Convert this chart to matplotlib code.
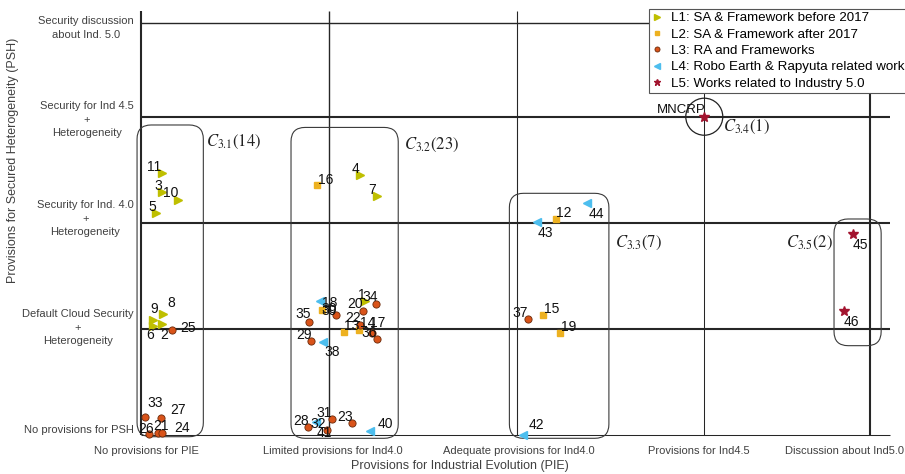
import matplotlib
matplotlib.use('Agg')
import matplotlib.pyplot as plt
from matplotlib.patches import FancyBboxPatch, Ellipse
from matplotlib.lines import Line2D

plt.rcParams['font.family'] = ['Liberation Sans', 'DejaVu Sans']
plt.rcParams['mathtext.fontset'] = 'stix'

# ---------------- categories / ticks ----------------
PIE_LABELS = ['No provisions for PIE', 'Limited provisions for Ind4.0',
              'Adequate provisions for Ind4.0', 'Provisions for Ind4.5',
              'Discussion about Ind5.0']
PSH_LABELS = ['No provisions for PSH', 'Default Cloud Security\n+\nHeterogeneity',
              'Security for Ind. 4.0\n+\nHeterogeneity',
              'Security for Ind 4.5\n+\nHeterogeneity',
              'Security discussion\nabout Ind. 5.0']
PIE_LEVELS = [0, 1, 2, 3, 3.88]
PSH_LEVELS = [0, 1, 2, 3, 3.88]

# ---------------- series ----------------
L1_ID = ['11', '3', '10', '5', '8', '9', '6', '2', '4', '7', '1']
L1_X = [0.110, 0.113, 0.199, 0.080, 0.119, 0.062, 0.062, 0.110, 1.167, 1.256, 1.193]
L1_Y = [2.468, 2.295, 2.211, 2.091, 1.145, 1.082, 1.025, 1.044, 2.446, 2.248, 1.263]

L2_ID = ['16', '30', '13', '14', '12', '15', '19']
L2_X = [0.936, 0.963, 1.082, 1.161, 2.209, 2.140, 2.232]
L2_Y = [2.358, 1.176, 0.972, 0.988, 2.032, 1.129, 0.962]

L3_ID = ['25', '33', '27', '26', '21', '24', '34', '20', '35', '22', '39', '36',
         '17', '29', '28', '31', '23', '41', '37']
L3_X = [0.167, 0.021, 0.107, 0.044, 0.092, 0.110, 1.250, 1.181, 0.895, 1.167, 1.039,
        1.259, 1.231, 0.904, 0.891, 1.016, 1.123, 0.989, 2.063]
L3_Y = [0.988, 0.172, 0.157, 0.007, 0.016, 0.016, 1.232, 1.167, 1.066, 1.041, 1.135,
        0.903, 0.960, 0.887, 0.078, 0.148, 0.110, 0.047, 1.091]

L4_ID = ['18', '38', '32', '40', '44', '43', '42']
L4_X = [0.954, 0.971, 0.932, 1.220, 2.378, 2.111, 2.037]
L4_Y = [1.263, 0.878, 0.125, 0.038, 2.185, 2.007, 0.000]

L5_ID = ['MNCRP', '45', '46']
L5_X = [3.000, 3.790, 3.742]
L5_Y = [3.000, 1.891, 1.167]

LEGEND = ['L1: SA & Framework before 2017', 'L2: SA & Framework after 2017',
          'L3: RA and Frameworks', 'L4: Robo Earth & Rapyuta related work',
          'L5: Works related to Industry 5.0']

# cluster groups: name, count
CLUSTERS = [('3.1', 14), ('3.2', 23), ('3.3', 7), ('3.4', 1), ('3.5', 2)]

# ---------------- layout (label offsets in pixels) ----------------
LABEL_OFF = {
    '11': (-8, 6), '3': (-4, 6), '10': (-8, 7), '5': (-4, 6), '8': (8, 11),
    '9': (2, 11), '6': (-3, -9), '2': (3, -11), '25': (16, 2), '33': (10, 14),
    '27': (17, 8), '26': (-3, 5), '21': (3, 7), '24': (20, 5), '16': (9, 5),
    '4': (-5, 6), '7': (-5, 6), '18': (10, -2), '30': (7, 1), '39': (-7, 4),
    '1': (-3, 6), '34': (-6, 7), '20': (-8, 7), '35': (-6, 8), '22': (-7, 7),
    '13': (8, 6), '14': (9, 7), '17': (6, 10), '36': (-8, 6), '29': (-7, 6),
    '38': (9, -10), '28': (-7, 6), '32': (2, -2), '31': (-8, 6), '23': (-7, 6),
    '41': (-2, -3), '40': (15, 7), '44': (9, -11), '12': (8, 6), '43': (8, -11),
    '37': (-8, 6), '15': (9, 6), '19': (9, 6), '42': (13, 10), 'MNCRP': (-23, 7),
    '45': (8, -11), '46': (8, -11),
}
CLUSTER_BOX = {'3.1': (-0.021, -0.016, 0.332, 2.922), '3.2': (0.799, -0.031, 1.370, 2.899),
               '3.3': (1.962, -0.031, 2.492, 2.278), '3.5': (3.691, 0.842, 3.942, 2.036)}
CLUSTER_TXT = {'3.1': (0.346, 2.762), '3.2': (1.401, 2.733), '3.3': (2.524, 1.812),
               '3.4': (3.098, 2.906), '3.5': (3.435, 1.812)}
XTICK_POS = [0.03, 1.02, 2.01, 2.97, 3.745]
YTICK_POS = [0.057, 1.037, 2.064, 3.0, 3.86]

LINE_C = '#262626'
fig = plt.figure(figsize=(9.05, 4.74), dpi=100)
ax = fig.add_axes([136 / 905, 34 / 474, 769 / 905, 440 / 474])
ax.set_xlim(-0.0266, 4.069)
ax.set_ylim(-0.047, 4.1)
for s in ax.spines.values():
    s.set_visible(False)

# grid lines
h_lw = [0.75, 1.5, 1.5, 1.5, 1.0]
v_lw = [1.5, 1.0, 0.8, 0.75, 1.5]
for y, lw in zip(PSH_LEVELS, h_lw):
    ax.hlines(y, 0, 3.99, color=LINE_C, lw=lw, zorder=1)
for x, lw in zip(PIE_LEVELS, v_lw):
    ax.vlines(x, 0, 4.0, color=LINE_C, lw=lw, zorder=1)

# clusters
for name, cnt in CLUSTERS:
    if name in CLUSTER_BOX:
        x0, y0, x1, y1 = CLUSTER_BOX[name]
        p = FancyBboxPatch((x0, y0), x1 - x0, y1 - y0,
                           boxstyle='round,pad=0,rounding_size=0.075',
                           mutation_aspect=1.77, fc='none', ec='#3a3a3a', lw=0.8,
                           zorder=2, clip_on=False)
        ax.add_patch(p)
    tx, ty = CLUSTER_TXT[name]
    ax.text(tx, ty, r'$C_{%s}(%d)$' % (name, cnt), fontsize=12, ha='left', va='center',
            color='#222222', zorder=4)
ax.add_patch(Ellipse((L5_X[0], L5_Y[0]), 0.197, 0.349, fc='none', ec='#222222', lw=0.9,
                     zorder=2))

styles = [
    (L1_ID, L1_X, L1_Y, dict(marker='>', color='#BFBF00', ms=5.5, mec='#BFBF00')),
    (L2_ID, L2_X, L2_Y, dict(marker='s', color='#EDB120', ms=5, mec='#EDB120')),
    (L3_ID, L3_X, L3_Y, dict(marker='o', color='#D95319', ms=5.2, mec='#6a2a0a', mew=0.6)),
    (L4_ID, L4_X, L4_Y, dict(marker='<', color='#4DBEEE', ms=5.5, mec='#4DBEEE')),
    (L5_ID, L5_X, L5_Y, dict(marker='*', color='#A2142F', ms=7, mec='#A2142F')),
]
handles = []
for (ids, xs, ys, st), lab in zip(styles, LEGEND):
    ax.plot(xs, ys, ls='none', zorder=3, clip_on=False, **st)
    for i, x, y in zip(ids, xs, ys):
        dx, dy = LABEL_OFF[i]
        ax.annotate(i, (x, y), xytext=(dx, dy), textcoords='offset pixels',
                    ha='center', va='center', fontsize=10 if i != 'MNCRP' else 9.5,
                    color='#111111', zorder=4)
    hs = dict(st)
    hs['ms'] = st['ms'] * 0.7
    handles.append(Line2D([], [], ls='none', **hs))

ax.set_xticks(XTICK_POS)
ax.set_xticklabels(PIE_LABELS, fontsize=8, color='#404040')
ax.set_yticks(YTICK_POS)
ax.set_yticklabels(PSH_LABELS, fontsize=8, color='#404040', multialignment='center',
                   linespacing=1.45)
ax.tick_params(length=0, pad=1.5)
ax.tick_params(axis='x', pad=4)

fig.text(460 / 905, 1 - 466 / 474, 'Provisions for Industrial Evolution (PIE)',
         ha='center', va='center', fontsize=9, color='#404040')
fig.text(13 / 905, 1 - 160 / 474, 'Provisions for Secured Heterogeneity (PSH)',
         ha='center', va='center', rotation=90, fontsize=9, color='#404040')

leg = fig.legend(handles, LEGEND, loc='upper left', bbox_to_anchor=(649 / 905, 1 - 9 / 474),
                 borderaxespad=0, fontsize=9.6, handlelength=0.8, handletextpad=0.6,
                 borderpad=0.23, labelspacing=0.3, fancybox=False, framealpha=1,
                 edgecolor='#555555')
leg.get_frame().set_linewidth(0.8)

fig.savefig('out.png', dpi=100)
